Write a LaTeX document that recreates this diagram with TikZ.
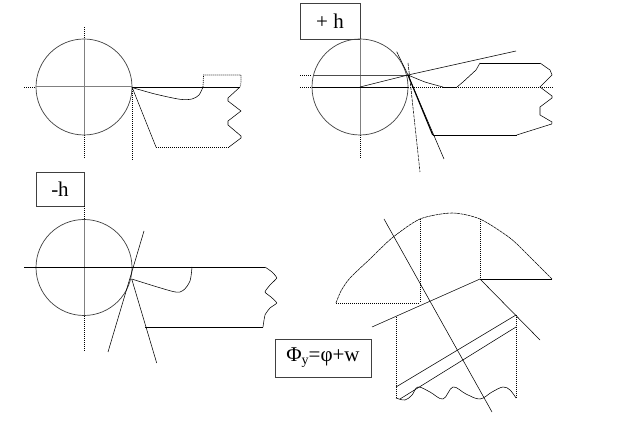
\documentclass[tikz,border=0pt]{standalone}
\usepackage{fontspec}
\setmainfont{Liberation Serif}
\tikzset{
  lbl/.style={draw=black!75,line width=0.7pt,fill=white,inner sep=0pt,anchor=center,font=\fontsize{21}{23}\selectfont},
  solidl/.style={draw=black,line width=0.6pt},
  dotl/.style={draw=black,line width=0.7pt,dash pattern=on 1pt off 1pt},
  grayl/.style={draw=black!50,line width=1pt},
  circ/.style={draw=black!75,line width=0.7pt},
  thinl/.style={draw=black,line width=0.55pt},
}
\begin{document}
\begin{tikzpicture}[x=1pt,y=-1pt]
\useasboundingbox (0,0) rectangle (624,435);
% ---------- top left
\draw[dotl] (84,27) -- (84,159);
\draw[dotl] (24,87) -- (36,87);
\draw[dotl] (132,87) -- (132,160);
\draw[circ] (84,87) circle (48);
\draw[grayl] (84,39) -- (84,135);
\draw[grayl] (36,87) -- (132,87);
\draw[solidl] (132,87) -- (240,87);
\draw[thinl] plot[smooth,tension=0.5] coordinates {(132,87.5) (155,94) (180,99.3) (192,99) (199,95) (203,87)};
\draw[dotl] (203,87) -- (203.5,75) -- (241,75) -- (241,83) -- (240,87);
\draw[thinl] (240,87) -- (228,98) -- (228,101) -- (241,111) -- (228,121) -- (228,125) -- (241,136) -- (241,138) -- (229,147);
\draw[dotl] (229,147) -- (156,147);
\draw[thinl] (132,87) -- (156,147);
% ---------- top right
\node[lbl,minimum width=60pt,minimum height=36pt] (ph) at (330,21) {+ h};
\draw[dotl] (360,135) -- (360,159);
\draw[dotl] (300,87) -- (553,87);
\draw[dotl] (300,75) -- (312,75);
\draw[circ] (360,87) circle (48);
\draw[grayl] (360,39) -- (360,135);
\draw[solidl,draw=black!70] (313,75.3) -- (408,75.3);
\draw[solidl] (312,87) -- (408,87);
\draw[solidl] (360,87) -- (408,75);
\draw[thinl] (408,75) -- (516,51);
\draw[thinl] (396.7,51.7) -- (408,75) -- (444,159);
\draw[thinl,dash pattern=on 3pt off 1pt] (408,63) -- (410,80) -- (420,172);
\draw[draw=black,line width=1.1pt] (408,75) -- (432.7,135);
\draw[solidl] (432.7,135) -- (516.7,135);
\draw[thinl] (516.7,135) -- (551.7,124) -- (552,122) -- (540,115) -- (540,107) -- (552,98) -- (552,96) -- (540,87) -- (552,75) -- (550,70) -- (540,63);
\draw[solidl] (540,63) -- (480,63);
\draw[thinl] (480,63) -- (476,70) -- (463,82) -- (457,87);
\draw[thinl] plot[smooth,tension=0.4] coordinates {(408,75) (425,82) (443,87)};
\draw[solidl] (443,87) -- (457,87);
% ---------- bottom left
\node[lbl,minimum width=48pt,minimum height=34pt] (mh) at (60,189) {-h};
\draw[dotl] (84,206) -- (84,352);
\draw[circ] (84,267.5) circle (48);
\draw[grayl] (84,220) -- (84,315);
\draw[solidl] (24,267) -- (265,267);
\draw[thinl] (144,231) -- (108,352);
\draw[thinl] (131.7,279) -- (156.7,363);
\draw[thinl] plot[smooth,tension=0.5] coordinates {(131.7,279) (173,291.5) (183,290.5) (190,281) (192,267)};
\draw[thinl] plot[smooth,tension=0.3] coordinates {(265,267) (272,272) (276.7,278) (270,285) (265,292) (271,297) (276.7,303) (270,308) (265,315) (263,327)};
\draw[solidl] (263,327) -- (145,327);
% ---------- bottom right
\draw[thinl,dash pattern=on 3pt off 0.6pt] plot[smooth,tension=0.45] coordinates {(336,303) (341,291) (350,278) (371,258) (392,238) (420,219) (452,213) (480,219) (510,238) (530,257) (552,279)};
\draw[dotl] (420,219) -- (420,303);
\draw[dotl] (480,219) -- (480,279);
\draw[dotl] (336,303) -- (420,303);
\draw[solidl] (480,279) -- (552,279);
\draw[thinl] (480,279) -- (372,327);
\draw[thinl] (480,279) -- (540,340);
\draw[thinl] (384,219) -- (492,412);
\draw[dotl] (396,317) -- (396,398);
\draw[dotl] (516,315) -- (516,398);
\draw[thinl] (396,387) -- (516,315);
\draw[thinl] (400,399) -- (516,327);
\draw[thinl] plot[smooth,tension=0.6] coordinates {(396,398) (405,400) (412,395) (418,387) (430,392) (443,399) (453,387) (466,394) (480,399) (492,392) (503,387) (510,390) (516,398)};
\node[lbl,minimum width=96pt,minimum height=38pt] (phi) at (323,358) {Φ\raisebox{-3pt}{\fontsize{14}{14}\selectfont y}=φ+w};
\end{tikzpicture}
\end{document}
